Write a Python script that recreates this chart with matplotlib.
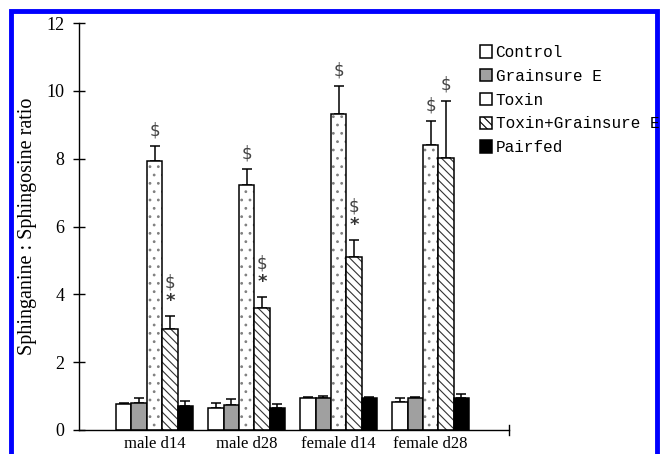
import numpy as np
import matplotlib.pyplot as plt
from matplotlib.patches import Rectangle

# data
groups = ['male d14', 'male d28', 'female d14', 'female d28']
series = ['Control', 'Grainsure E', 'Toxin', 'Toxin+Grainsure E', 'Pairfed']

control = [0.77, 0.65, 0.94, 0.83]
control_err = [0.02, 0.15, 0.03, 0.11]
grainsure = [0.80, 0.75, 0.94, 0.94]
grainsure_err = [0.15, 0.17, 0.06, 0.03]
toxin = [7.93, 7.22, 9.32, 8.40]
toxin_err = [0.45, 0.48, 0.83, 0.72]
toxin_g = [2.98, 3.60, 5.10, 8.02]
toxin_g_err = [0.37, 0.32, 0.50, 1.68]
pairfed = [0.70, 0.66, 0.95, 0.94]
pairfed_err = [0.14, 0.11, 0.02, 0.12]

toxin_marks = ['$', '$', '$', '$']
toxin_g_marks = ['$*', '$*', '$*', '$']

values = [control, grainsure, toxin, toxin_g, pairfed]
errors = [control_err, grainsure_err, toxin_err, toxin_g_err, pairfed_err]
colors = ['white', '#a0a0a0', 'white', 'white', 'black']
hatches = [None, None, '..', '\\\\\\\\', None]
hatch_cols = ['black', 'black', '#808080', '#333333', 'black']

plt.rcParams['hatch.linewidth'] = 0.8

fig = plt.figure(figsize=(6.6, 4.54), dpi=100)
ax = fig.add_axes([0.1197, 0.0529, 0.6515, 0.8964])

x = np.arange(len(groups))
w = 0.167
handles = []
for i in range(5):
    pos = x + (i - 2) * w
    if hatches[i]:
        # hatch takes the edge colour, so fill first, then outline in black
        ax.bar(pos, values[i], w, color=colors[i], edgecolor=hatch_cols[i],
               linewidth=0, hatch=hatches[i], zorder=2)
        fc = 'none'
    else:
        fc = colors[i]
    ax.bar(pos, values[i], w, color=fc, edgecolor='black', linewidth=1.1, zorder=2)
    ax.errorbar(pos, values[i], yerr=[np.zeros(4), errors[i]], fmt='none',
                ecolor='black', elinewidth=1.1, capsize=3.5, capthick=1.1, zorder=1)
    handles.append(Rectangle((0, 0), 1, 1, facecolor=colors[i], edgecolor='black',
                             linewidth=1.1, hatch=None if i == 2 else hatches[i]))

serif = 'Liberation Serif'
for j in range(4):
    px = x[j]
    top = toxin[j] + toxin_err[j]
    ax.text(px, top + 0.45, r'\$', ha='center', va='center', fontsize=12, color='#444444')
    px = x[j] + w
    top = toxin_g[j] + toxin_g_err[j]
    if '*' in toxin_g_marks[j]:
        ax.text(px, top + 0.45, '*', ha='center', va='center', fontsize=13,
                color='#333333', fontweight='bold')
        ax.text(px, top + 1.0, r'\$', ha='center', va='center', fontsize=12, color='#444444')
    else:
        ax.text(px, top + 0.5, r'\$', ha='center', va='center', fontsize=12, color='#444444')

ax.set_xlim(-0.82, 3.85)
ax.set_ylim(0, 12)
ax.set_yticks([0, 2, 4, 6, 8, 10, 12])
ax.set_xticks(x)
ax.set_xticklabels(groups, fontsize=12, family=serif)
ax.tick_params(axis='x', length=0, pad=4)
ax.tick_params(axis='y', direction='inout', length=9, width=1, labelsize=13, pad=6)
for lab in ax.get_yticklabels():
    lab.set_family(serif)
ax.spines['top'].set_visible(False)
ax.spines['right'].set_visible(False)
ax.spines['left'].set_linewidth(1)
ax.spines['bottom'].set_linewidth(1)
ax.plot([1, 1], [-0.012, 0.012], transform=ax.transAxes, color='black',
        linewidth=1, clip_on=False)
ax.set_ylabel('Sphinganine : Sphingosine ratio', family=serif, fontsize=14.5, labelpad=7)

fig.legend(handles=handles, labels=series, loc='upper left',
           bbox_to_anchor=(0.717, 0.915), frameon=False,
           prop={'family': 'Liberation Mono', 'size': 11.5},
           handlelength=0.8, handleheight=0.8, handletextpad=0.2,
           labelspacing=0.55, borderaxespad=0)

fig.patches.append(Rectangle((0.016, -0.1), 0.98, 1.075, transform=fig.transFigure,
                             fill=False, edgecolor='#0000ff', linewidth=3.5))

fig.savefig('out.png', dpi=100)
